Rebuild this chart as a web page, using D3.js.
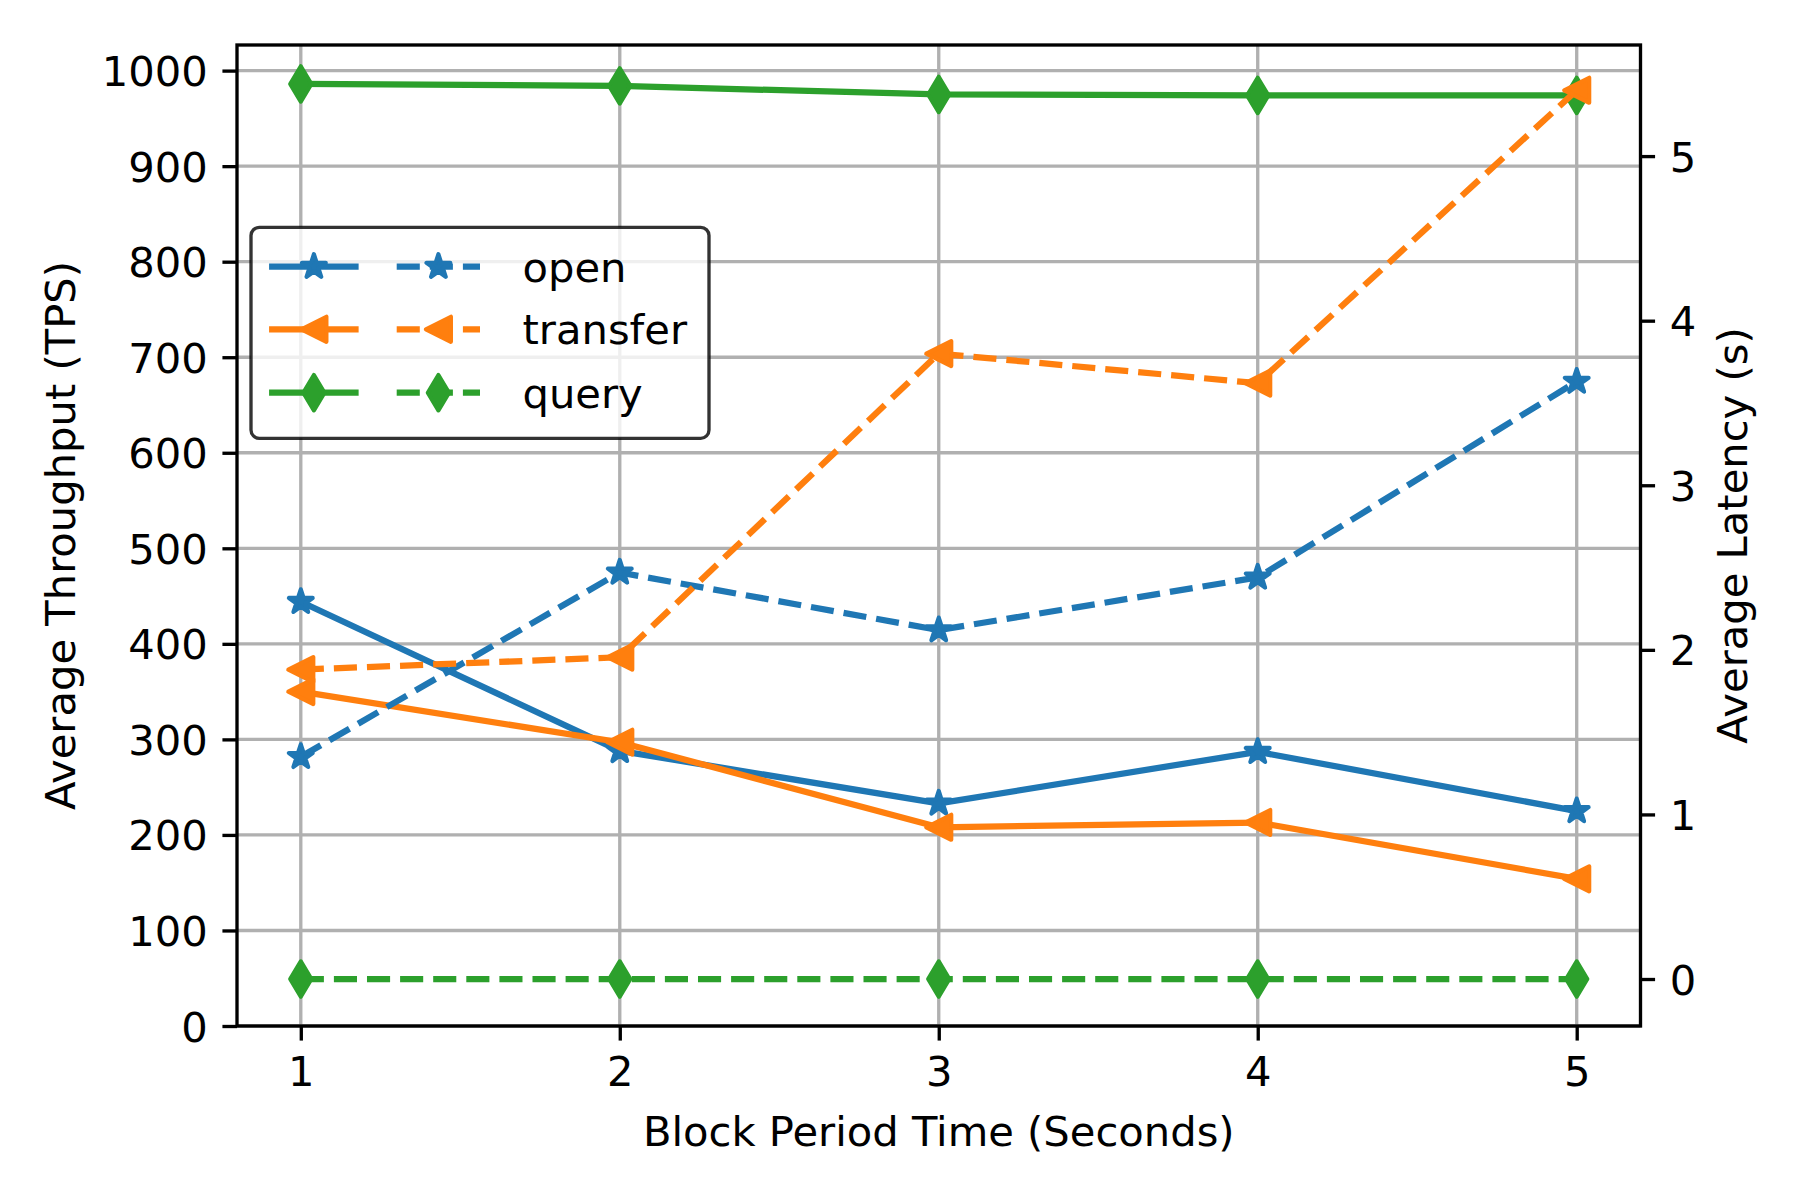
<!DOCTYPE html>
<html><head><meta charset="utf-8">
<script src="https://cdn.jsdelivr.net/npm/d3@7"></script>
<style>
body{margin:0;background:#fff}
svg{display:block}
text{font-family:"DejaVu Sans",sans-serif;fill:#000}
</style>
</head><body>
<script>
// ---------------- data ----------------
const xValues = [1, 2, 3, 4, 5];
const seriesNames = ["open", "transfer", "query"];
const openThroughput = [444, 288, 233, 287, 225];
const transferThroughput = [350, 297, 208, 213, 154];
const queryThroughput = [986, 984, 975, 974, 974];
const openLatency = [1.35, 2.47, 2.12, 2.44, 3.63];
const transferLatency = [1.88, 1.955, 3.80, 3.62, 5.40];
const queryLatency = [0, 0, 0, 0, 0];
const xTicks = [1, 2, 3, 4, 5];
const leftTicks = [0, 100, 200, 300, 400, 500, 600, 700, 800, 900, 1000];
const rightTicks = [0, 1, 2, 3, 4, 5];
const xLabel = "Block Period Time (Seconds)";
const leftLabel = "Average Throughput (TPS)";
const rightLabel = "Average Latency (s)";
const colors = ["#1f77b4", "#ff7f0e", "#2ca02c"];
const markers = ["star", "triangleLeft", "thinDiamond"];

// ---------------- layout ----------------
const W = 1800, H = 1200;
const L = 237, R = 1640.5, T = 45, B = 1026;
const FS = 41.67;           // 10pt @ 300dpi
const LW = 6.25;            // 1.5pt
const MS = 25;              // 6pt marker size
const MEW = 4.17;           // 1pt marker edge
const TICK = 14.58, PAD = 14.58, AXW = 3.33;
const DASH = "23.1,10";

const svg = d3.select("body").append("svg").attr("width", W).attr("height", H);

const x = d3.scaleLinear().domain([0.8, 5.2]).range([L, R]);
const yL = d3.scaleLinear().domain([0, 1026.8]).range([B, T]);
const yR = d3.scaleLinear().domain([-0.2855, 5.675]).range([B, T]);

// marker paths
function markerPath(type) {
  const p = d3.path();
  if (type === "star") {
    const ro = MS * 0.5, ri = ro * 0.381966;
    for (let i = 0; i < 10; i++) {
      const r = i % 2 === 0 ? ro : ri;
      const a = -Math.PI / 2 + i * Math.PI / 5;
      const px = r * Math.cos(a), py = r * Math.sin(a);
      if (i === 0) p.moveTo(px, py); else p.lineTo(px, py);
    }
    p.closePath();
  } else if (type === "triangleLeft") {
    const h = MS * 0.5;
    p.moveTo(-h, 0); p.lineTo(h, -h); p.lineTo(h, h); p.closePath();
  } else {
    const hy = MS * Math.SQRT1_2, hx = hy * 0.6;
    p.moveTo(0, -hy); p.lineTo(hx, 0); p.lineTo(0, hy); p.lineTo(-hx, 0); p.closePath();
  }
  return p.toString();
}

// ---------------- grid ----------------
const grid = svg.append("g").attr("stroke", "#b0b0b0").attr("stroke-width", AXW);
grid.selectAll("line.gx").data(xTicks).join("line")
  .attr("x1", d => x(d)).attr("x2", d => x(d)).attr("y1", T).attr("y2", B);
grid.selectAll("line.gy").data(leftTicks).join("line")
  .attr("x1", L).attr("x2", R).attr("y1", d => yL(d)).attr("y2", d => yL(d));

// ---------------- lines ----------------
svg.append("defs").append("clipPath").attr("id", "clip")
  .append("rect").attr("x", L).attr("y", T).attr("width", R - L).attr("height", B - T);

function drawSeries(vals, yScale, i, dashed) {
  const g = svg.append("g");
  const pts = xValues.map((xv, k) => [x(xv), yScale(vals[k])]);
  g.append("path")
    .attr("clip-path", "url(#clip)")
    .attr("d", d3.line()(pts))
    .attr("fill", "none")
    .attr("stroke", colors[i])
    .attr("stroke-width", LW)
    .attr("stroke-linejoin", "round")
    .attr("stroke-linecap", dashed ? "butt" : "square")
    .attr("stroke-dasharray", dashed ? DASH : null);
  g.selectAll("path.m").data(pts).join("path")
    .attr("class", "m")
    .attr("transform", d => `translate(${d[0]},${d[1]})`)
    .attr("d", markerPath(markers[i]))
    .attr("fill", colors[i]).attr("stroke", colors[i])
    .attr("stroke-width", MEW).attr("stroke-linejoin", "round");
}
const throughputs = [openThroughput, transferThroughput, queryThroughput];
const latencies = [openLatency, transferLatency, queryLatency];
throughputs.forEach((v, i) => drawSeries(v, yL, i, false));
latencies.forEach((v, i) => drawSeries(v, yR, i, true));

// ---------------- axes ----------------
function styleAxis(g) {
  g.select(".domain").remove();
  g.selectAll(".tick line").attr("stroke", "#000").attr("stroke-width", AXW);
  g.selectAll(".tick text").attr("font-size", FS).attr("font-family", "DejaVu Sans").attr("fill", "#000");
}
svg.append("g").attr("transform", `translate(0,${B})`)
  .call(d3.axisBottom(x).tickValues(xTicks).tickFormat(d3.format("d")).tickSize(TICK).tickPadding(PAD))
  .call(styleAxis)
  .call(g => g.selectAll(".tick text").attr("dy", "0.74em"));
svg.append("g").attr("transform", `translate(${L},0)`)
  .call(d3.axisLeft(yL).tickValues(leftTicks).tickFormat(d3.format("d")).tickSize(TICK).tickPadding(PAD))
  .call(styleAxis)
  .call(g => g.selectAll(".tick text").attr("dy", "0.36em"));
svg.append("g").attr("transform", `translate(${R},0)`)
  .call(d3.axisRight(yR).tickValues(rightTicks).tickFormat(d3.format("d")).tickSize(TICK).tickPadding(PAD))
  .call(styleAxis)
  .call(g => g.selectAll(".tick text").attr("dy", "0.36em"));

// spines
svg.append("rect").attr("x", L).attr("y", T).attr("width", R - L).attr("height", B - T)
  .attr("fill", "none").attr("stroke", "#000").attr("stroke-width", AXW).attr("stroke-linecap", "square");

// axis labels
svg.append("text").attr("x", (L + R) / 2).attr("y", 1146).attr("text-anchor", "middle")
  .attr("font-size", FS).text(xLabel);
svg.append("text").attr("transform", `translate(74.5,${(T + B) / 2}) rotate(-90)`)
  .attr("text-anchor", "middle").attr("font-size", FS).text(leftLabel);
svg.append("text").attr("transform", `translate(1746.5,${(T + B) / 2}) rotate(-90)`)
  .attr("text-anchor", "middle").attr("font-size", FS).text(rightLabel);

// ---------------- legend ----------------
const leg = svg.append("g");
leg.append("rect").attr("x", 251).attr("y", 227.3).attr("width", 458).attr("height", 211)
  .attr("rx", 8.3).attr("ry", 8.3)
  .attr("fill", "#fff").attr("fill-opacity", 0.8)
  .attr("stroke", "#000").attr("stroke-opacity", 0.8).attr("stroke-width", AXW);
const rowY = [266.7, 329.3, 392.7];
seriesNames.forEach((name, i) => {
  const yy = rowY[i];
  leg.append("line").attr("x1", 272.2).attr("x2", 355.5).attr("y1", yy).attr("y2", yy)
    .attr("stroke", colors[i]).attr("stroke-width", LW).attr("stroke-linecap", "square");
  leg.append("path").attr("transform", `translate(313.9,${yy})`).attr("d", markerPath(markers[i]))
    .attr("fill", colors[i]).attr("stroke", colors[i]).attr("stroke-width", MEW).attr("stroke-linejoin", "round");
  leg.append("line").attr("x1", 396.7).attr("x2", 480).attr("y1", yy).attr("y2", yy)
    .attr("stroke", colors[i]).attr("stroke-width", LW).attr("stroke-linecap", "butt")
    .attr("stroke-dasharray", DASH);
  leg.append("path").attr("transform", `translate(438.4,${yy})`).attr("d", markerPath(markers[i]))
    .attr("fill", colors[i]).attr("stroke", colors[i]).attr("stroke-width", MEW).attr("stroke-linejoin", "round");
  leg.append("text").attr("x", 522.5).attr("y", yy + 15).attr("font-size", FS).text(name);
});
</script>
</body></html>
